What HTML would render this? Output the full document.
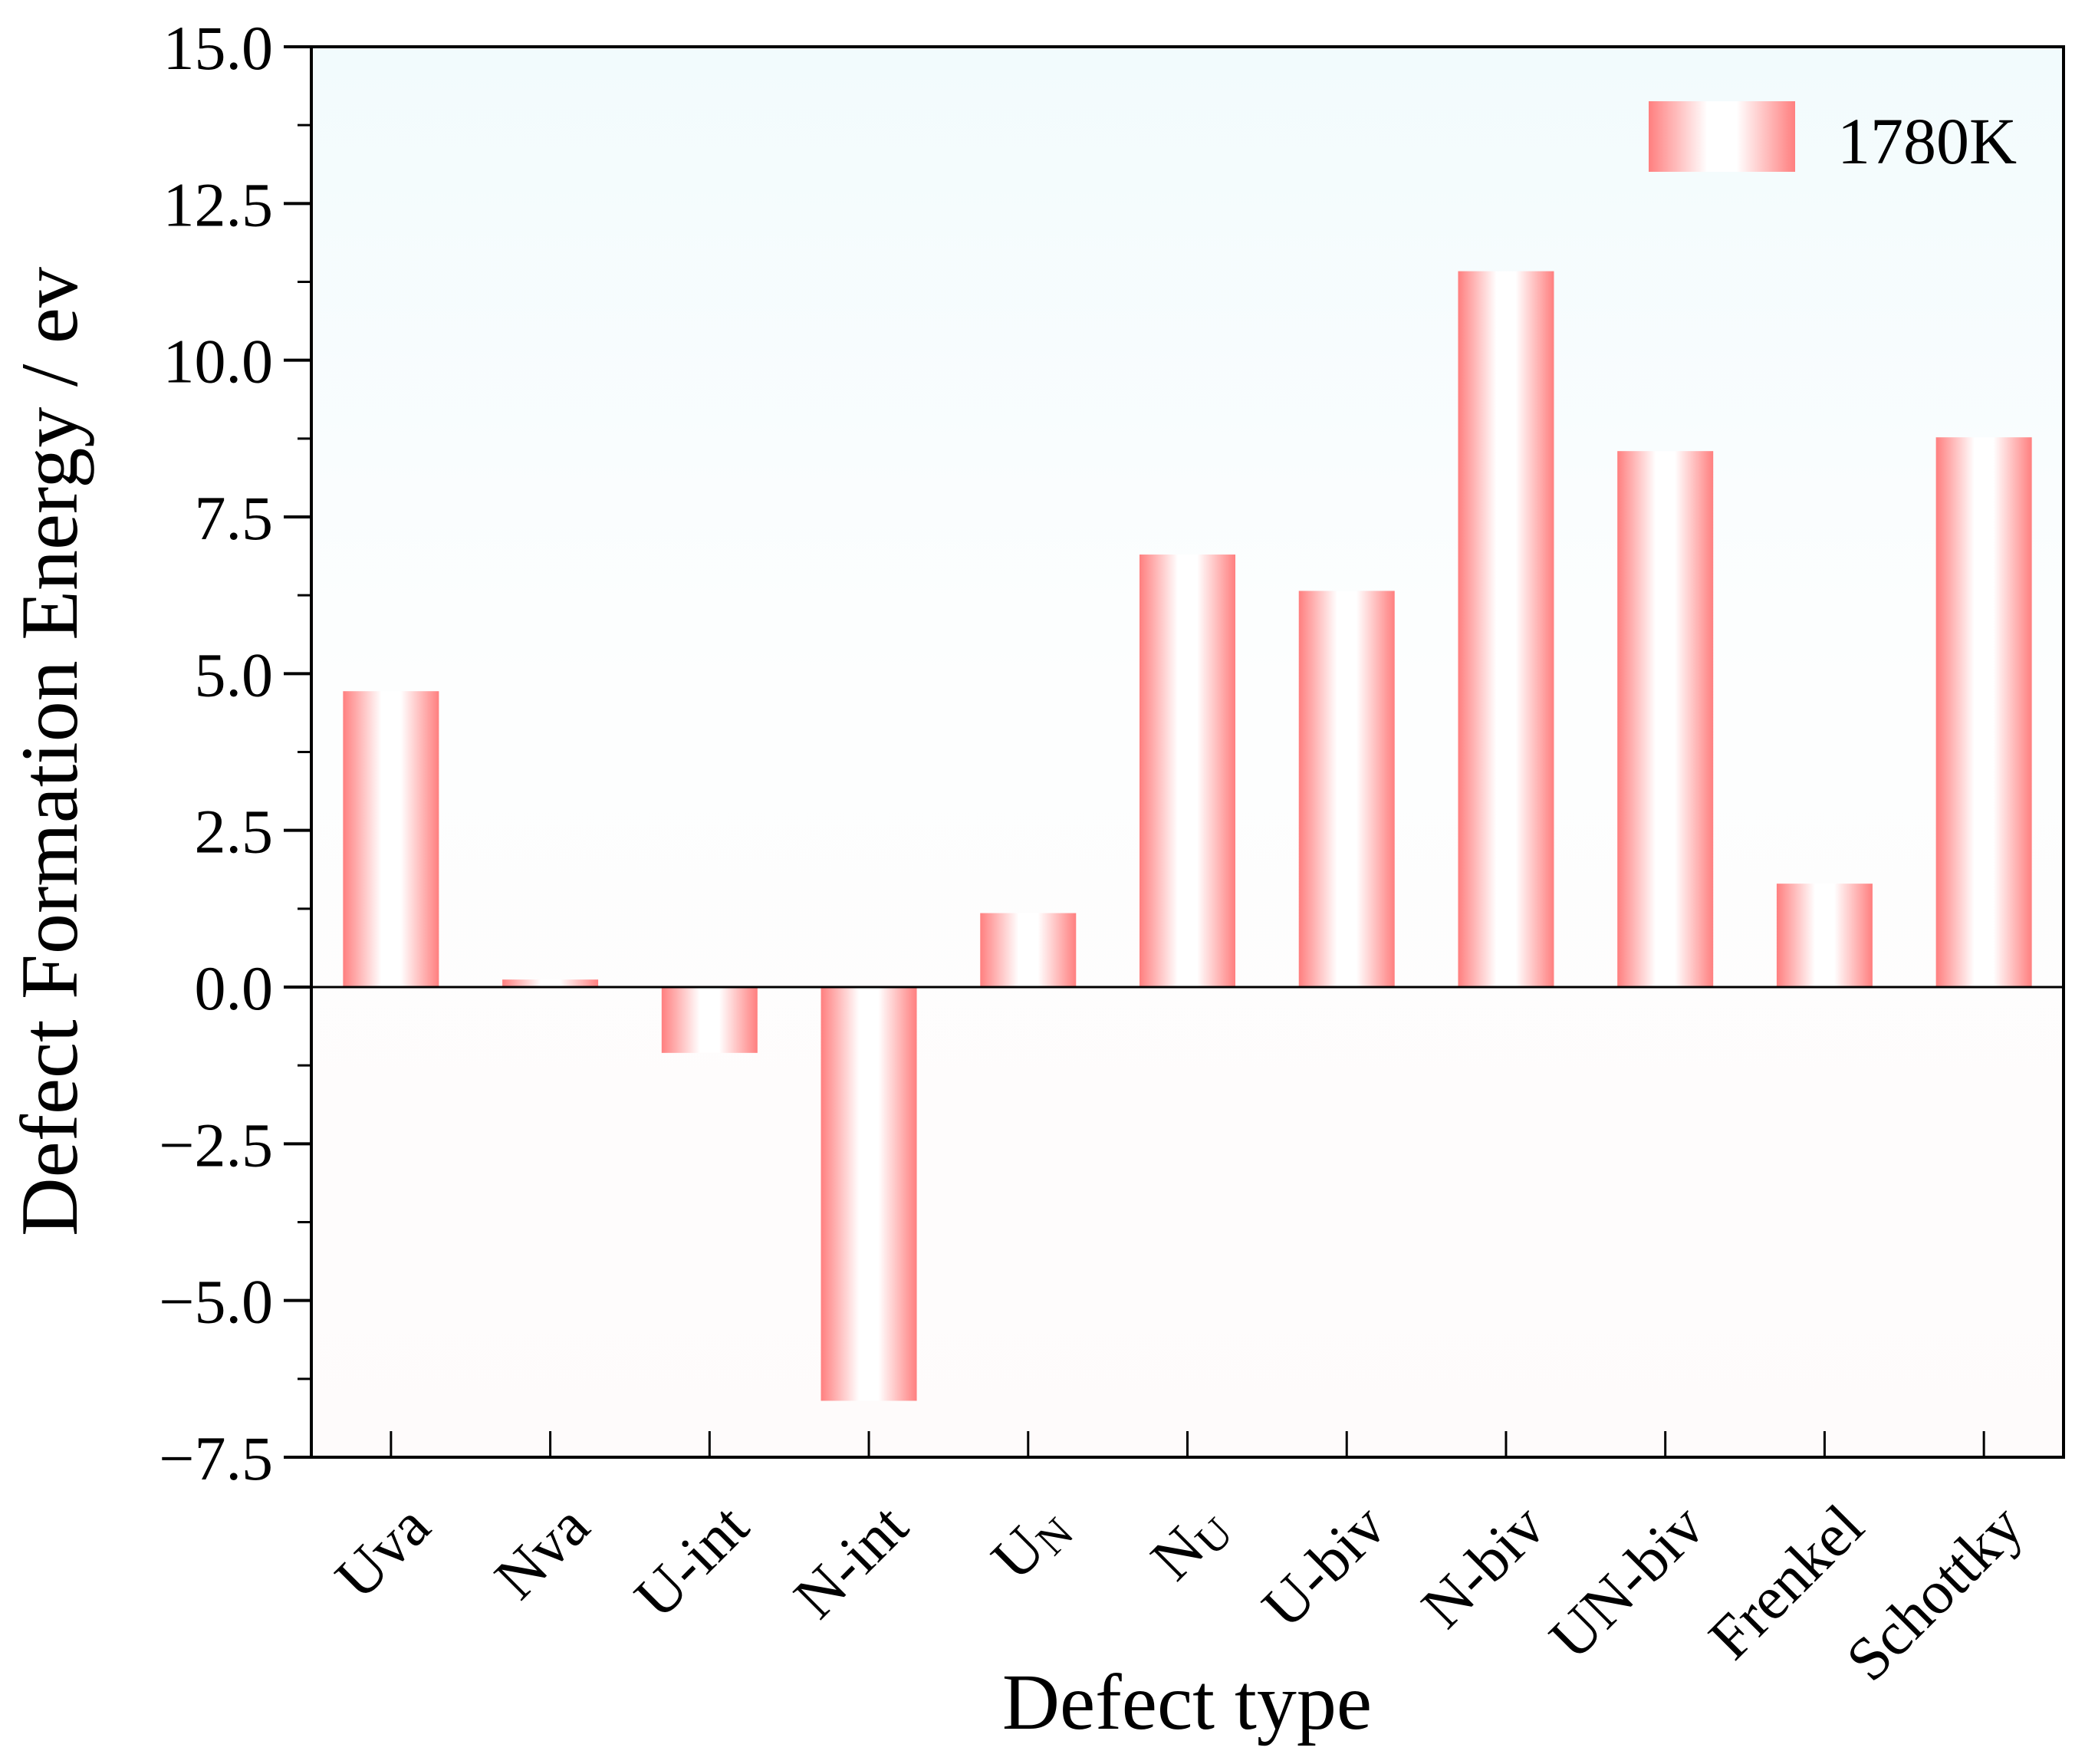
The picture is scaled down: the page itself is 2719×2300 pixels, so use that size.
<!DOCTYPE html>
<html><head><meta charset="utf-8"><style>
html,body{margin:0;padding:0;background:#fff;}
svg{display:block;font-family:"Liberation Serif",serif;}
</style></head><body>
<svg id="chart" width="2719" height="2300" viewBox="0 0 2719 2300">
<defs>
<linearGradient id="barGrad" x1="0" y1="0" x2="1" y2="0">
<stop offset="0" stop-color="#ff7f7f"/><stop offset="0.4" stop-color="#ffffff"/><stop offset="0.6" stop-color="#ffffff"/><stop offset="1" stop-color="#ff7f7f"/>
</linearGradient>
<linearGradient id="bgGrad" x1="0" y1="0" x2="0" y2="1">
<stop offset="0" stop-color="#f2fbfd"/><stop offset="0.45" stop-color="#fdfefe"/><stop offset="1" stop-color="#fefbfb"/>
</linearGradient>
</defs>
<rect x="406" y="61" width="2285" height="1839" fill="url(#bgGrad)"/>
<g id="bars"></g>
<g id="axes"></g>
<rect x="2150" y="132" width="191" height="92" fill="url(#barGrad)"/>
<text x="2396" y="213" font-size="86">1780K</text>
<text transform="translate(100,980) rotate(-90)" text-anchor="middle" font-size="106">Defect Formation Energy / ev</text>
<text x="1548" y="2254" text-anchor="middle" font-size="104">Defect type</text>
</svg>
<script>
const categories = ["Uva","Nva","U-int","N-int","UN","NU","U-biv","N-biv","UN-biv","Frenkel","Schottky"];
const values = [4.72, 0.12, -1.05, -6.6, 1.18, 6.9, 6.32, 11.42, 8.55, 1.65, 8.77];
const yTicks = [15, 12.5, 10, 7.5, 5, 2.5, 0, -2.5, -5, -7.5];
const yTickLabels = ["15.0","12.5","10.0","7.5","5.0","2.5","0.0","\u22122.5","\u22125.0","\u22127.5"];

const NS = "http://www.w3.org/2000/svg";
const L = 406, R = 2691, T = 61, B = 1900, yMin = -7.5, yMax = 15;
function y(v){ return T + (yMax - v) / (yMax - yMin) * (B - T); }
const band = (R - L) / categories.length;
function x(i){ return L + band * (i + 0.5); }
function mk(tag, attrs, parent){ const e = document.createElementNS(NS, tag); for (const k in attrs) e.setAttribute(k, attrs[k]); parent.appendChild(e); return e; }

const bars = document.getElementById('bars');
const axes = document.getElementById('axes');
const bw = 125;
values.forEach((v, i) => {
  const r = mk('rect', {x: x(i) - bw/2, y: Math.min(y(v), y(0)), width: bw, height: Math.abs(y(v) - y(0)), fill: 'url(#barGrad)'}, bars);
  
  
});
const z = mk('line', {x1: L, x2: R, y1: y(0), y2: y(0), stroke: '#000', 'stroke-width': 3}, axes);


const fr = mk('rect', {x: L, y: T, width: R - L, height: B - T, fill: 'none', stroke: '#000', 'stroke-width': 4}, axes);


yTicks.forEach((t, i) => {
  const yy = y(t);
  const tk = mk('line', {x1: L - 36, x2: L, y1: yy, y2: yy, stroke: '#000', 'stroke-width': 4}, axes);
  
  
  const lb = mk('text', {x: L - 50, y: yy + 29, 'text-anchor': 'end', 'font-size': 82}, axes);
  lb.textContent = yTickLabels[i];
  
  
  if (i < yTicks.length - 1) {
    const ym = y(t - 1.25);
    const mt = mk('line', {x1: L - 18, x2: L, y1: ym, y2: ym, stroke: '#000', 'stroke-width': 3}, axes);
    
    
  }
});
categories.forEach((c, i) => {
  const xx = x(i);
  const tk = mk('line', {x1: xx, x2: xx, y1: B, y2: B - 34, stroke: '#000', 'stroke-width': 3}, axes);
  
  
  const lb = mk('text', {'text-anchor': 'end', 'font-size': 80, transform: 'translate(' + (xx + 55) + ',1995) rotate(-45)'}, axes);
  if (c === 'UN' || c === 'NU') {
    lb.textContent = c[0];
    const s = mk('tspan', {'font-size': 56, dy: 10}, lb);
    s.textContent = c[1];
  } else {
    lb.textContent = c;
  }
  
  
});
</script>
</body></html>
